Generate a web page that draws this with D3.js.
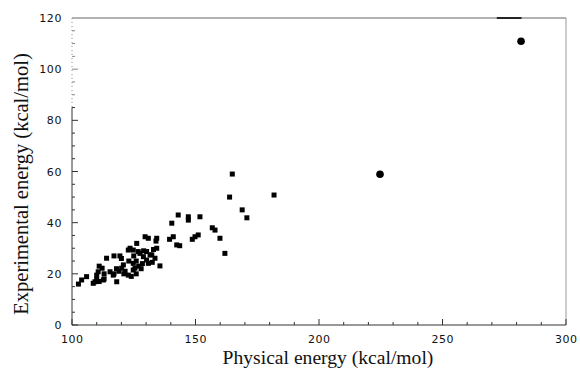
<!DOCTYPE html>
<html lang="en">
<head>
    <meta charset="UTF-8">
    <title>Experimental vs physical energy</title>
    <script src="https://d3js.org/d3.v7.min.js"></script>
    <style>
        body { margin: 0; background: #fff; }
        .tick-label { font-family: "DejaVu Sans", sans-serif; font-size: 11px; letter-spacing: 0.6px; fill: #111; }
        .axis-title { font-family: "Liberation Serif", "Times New Roman", serif; font-size: 19.6px; fill: #111; }
    </style>
</head>
<body>
    <svg id="chart" width="580" height="369"></svg>

    <script>
        // square markers: physical energy vs experimental energy (kcal/mol)
        const physX = [102.6, 103.9, 105.9, 108.6, 109.3, 110, 110.6, 110, 111, 112.2,
            112.7, 114, 113, 115.4, 116.7, 118.1, 119.4, 120.1, 120.8, 121.5,
            122.8, 122.8, 123.5, 124.8, 125.5, 124.8, 124.8, 126.2, 126.8, 127.5,
            128.9, 130.2, 130.9, 129.6, 130.9, 134.3, 134.3, 132.3, 133.6, 135.6,
            130.2, 131.6, 126, 127, 128, 125, 123, 124, 121, 118,
            119, 117, 113, 111, 128.5, 129, 132.5, 133, 126, 117,
            120, 134,
            140.4, 141, 142.4, 143.6, 139.5, 143, 147.1, 147.1, 149.8, 151.1,
            148.7, 151.8, 156.8, 157.9, 159.9, 161.9, 163.8, 164.9, 168.9, 170.8,
            181.8];
        const expY = [16, 17.6, 18.9, 16.3, 16.9, 19.5, 20.8, 18, 17, 22.2,
            17.6, 26.1, 20, 20.8, 19.5, 16.9, 27, 22.2, 23.5, 21,
            19.5, 29.3, 30, 24.1, 22.2, 21.5, 29.3, 31.9, 28.7, 28,
            26.7, 25.4, 24.1, 34.5, 33.9, 33.9, 30, 27.4, 26.1, 23.1,
            28.7, 27.4, 25, 23, 22, 27, 25, 19, 20, 22,
            21, 20, 18, 23, 24, 29, 24.5, 29.5, 20, 27,
            26, 32.8,
            39.8, 34.5, 31.3, 31, 33.5, 43, 42.3, 41, 34.5, 35.2,
            33.5, 42.3, 38, 37.1, 33.9, 28, 50, 59, 45, 41.9,
            50.8];

        // round markers
        const circleX = [224.7, 281.8];
        const circleY = [58.9, 110.9];

        const xTicks = [100, 150, 200, 250, 300];
        const yTicks = [0, 20, 40, 60, 80, 100, 120];

        const svg = d3.select("#chart");
        const margin = { left: 72, top: 18, right: 14, bottom: 44 };
        const w = 580 - margin.left - margin.right;
        const h = 369 - margin.top - margin.bottom;

        const x = d3.scaleLinear().domain([100, 300]).range([margin.left, margin.left + w]);
        const y = d3.scaleLinear().domain([0, 120]).range([margin.top + h, margin.top]);

        const g = svg.append("g");

        // frame: top and right are faint in the original
        g.append("line").attr("x1", x(100)).attr("x2", x(300)).attr("y1", y(120)).attr("y2", y(120))
            .attr("stroke", "#666").attr("stroke-width", 1);
        g.append("line").attr("x1", x(272)).attr("x2", x(282)).attr("y1", y(120)).attr("y2", y(120))
            .attr("stroke", "#000").attr("stroke-width", 1.6);
        g.append("line").attr("x1", x(300)).attr("x2", x(300)).attr("y1", y(120)).attr("y2", y(0))
            .attr("stroke", "#999").attr("stroke-width", 1);
        g.append("line").attr("x1", x(100)).attr("x2", x(100)).attr("y1", y(120)).attr("y2", y(85))
            .attr("stroke", "#888").attr("stroke-dasharray", "1,3");
        g.append("line").attr("x1", x(100)).attr("x2", x(100)).attr("y1", y(85)).attr("y2", y(0))
            .attr("stroke", "#333").attr("stroke-width", 1);
        g.append("line").attr("x1", x(100)).attr("x2", x(300)).attr("y1", y(0)).attr("y2", y(0))
            .attr("stroke", "#333").attr("stroke-width", 1);

        // inward ticks
        const xMinor = d3.range(100, 301, 10);
        const yMinor = d3.range(0, 121, 5);
        g.selectAll(".xt").data(xMinor).enter().append("line")
            .attr("x1", d => x(d)).attr("x2", d => x(d))
            .attr("y1", y(0)).attr("y2", d => y(0) - (d % 50 === 0 ? 6 : 3))
            .attr("stroke", "#333");
        g.selectAll(".yt").data(yMinor.filter(d => d < 120)).enter().append("line")
            .attr("y1", d => y(d)).attr("y2", d => y(d))
            .attr("x1", x(100)).attr("x2", d => x(100) + (d % 20 === 0 ? 6 : 3))
            .attr("stroke", d => d > 85 ? "#888" : "#333");

        g.selectAll(".xl").data(xTicks).enter().append("text")
            .attr("class", "tick-label")
            .attr("x", d => x(d) + 0.3).attr("y", y(0) + 18)
            .attr("text-anchor", "middle")
            .text(d => d);
        g.selectAll(".yl").data(yTicks).enter().append("text")
            .attr("class", "tick-label")
            .attr("x", x(100) - 10).attr("y", d => y(d) + 4)
            .attr("text-anchor", "end")
            .text(d => d);

        svg.append("text").attr("class", "axis-title")
            .attr("x", 328).attr("y", 364)
            .attr("text-anchor", "middle")
            .text("Physical energy (kcal/mol)");
        svg.append("text").attr("class", "axis-title")
            .style("font-size", "20.5px")
            .attr("transform", `translate(28,184) rotate(-90)`)
            .attr("text-anchor", "middle")
            .text("Experimental energy (kcal/mol)");

        const pts = physX.map((v, i) => ({ x: v, y: expY[i] }));
        const s = 5;
        g.selectAll(".sq").data(pts).enter().append("rect")
            .attr("x", d => x(d.x) - s / 2).attr("y", d => y(d.y) - s / 2)
            .attr("width", s).attr("height", s)
            .attr("fill", "#000");

        g.selectAll(".ci").data(circleX.map((v, i) => ({ x: v, y: circleY[i] }))).enter().append("circle")
            .attr("cx", d => x(d.x)).attr("cy", d => y(d.y)).attr("r", 3.8)
            .attr("fill", "#000");
    </script>
</body>
</html>
